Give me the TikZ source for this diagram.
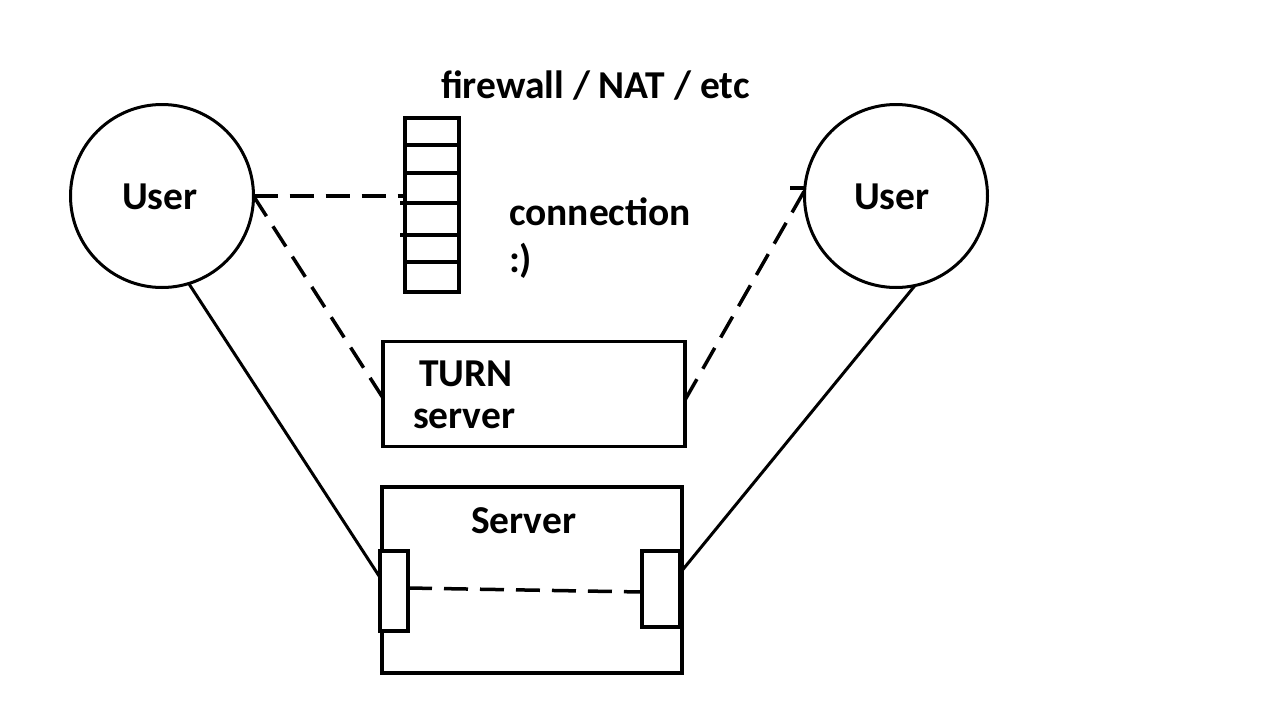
\documentclass[tikz,border=0pt]{standalone}
\usepackage{fontspec}
\setmainfont{Carlito}
\usetikzlibrary{calc}
\begin{document}
\begin{tikzpicture}[x=1pt,y=-1pt,
  every node/.style={inner sep=0pt,outer sep=0pt},
  lbl/.style={anchor=base west,font=\fontsize{39.5}{45}\selectfont\bfseries},
  usr/.style={draw,circle,line width=3pt,minimum size=183pt},
  box/.style={draw,rectangle,line width=3.5pt},
  port/.style={draw,rectangle,line width=3.5pt,fill=white},
  dsh/.style={line width=3.5pt,dash pattern=on 24pt off 12pt},
  sld/.style={line width=3pt}]
\useasboundingbox (0,0) rectangle (1280,720);
% users
\node[usr] (u1) at (162,196) {};
\node[usr] (u2) at (896,196) {};
% firewall
\node[box,minimum width=54pt,minimum height=174pt] (fw) at (432,205) {};
\foreach \yy in {145,173,262}
  \draw[line width=3.5pt] (fw.west |- 0,\yy) -- (fw.east |- 0,\yy);
\foreach \yy in {203,235}
  \draw[line width=3.5pt] ([xshift=-5pt]fw.west |- 0,\yy) -- (fw.east |- 0,\yy);
% TURN server
\node[box,minimum width=302pt,minimum height=105pt] (turn) at (534,394) {};
% Server
\node[box,minimum width=300pt,minimum height=186pt] (srv) at (532,580) {};
\node[port,minimum width=28pt,minimum height=80pt] (p1) at (394,591) {};
\node[port,minimum width=38pt,minimum height=76pt] (p2) at (661,589) {};
% labels
\node[lbl] (tfw) at (441,98) {firewall / NAT / etc};
\node[lbl] (tu1) at (122,209) {User};
\node[lbl] (tu2) at (854,209) {User};
\node[lbl] (tc1) at (509,225) {connection};
\node[lbl] (tc2) at (509,272) {:)};
\node[lbl] (tt1) at (419,386) {TURN};
\node[lbl] (tt2) at (413,428) {server};
\node[lbl] (ts) at (471,533) {Server};
% connectors
\draw[dsh] (u1.east) -- (u1.east -| fw.west);
\draw[dsh] (u1.east) -- ([yshift=-4pt]turn.west);
\coordinate (u2in) at ($(u2.center)+(-90,-8)$);
\draw[dsh] ([yshift=-6pt]turn.east) -- (u2in);
\draw[line width=3.5pt] ($(u2in)+(-16,0)$) -- (u2in);
\draw[dsh] ([yshift=3pt]p1.east) -- ([yshift=-3pt]p2.west);
\draw[sld] (u1.-73) -- ($(p1.north west)!0.33!(p1.south west)$);
\draw[sld] (u2.-78) -- ($(p2.north east)!0.29!(p2.south east)$);
\end{tikzpicture}
\end{document}
